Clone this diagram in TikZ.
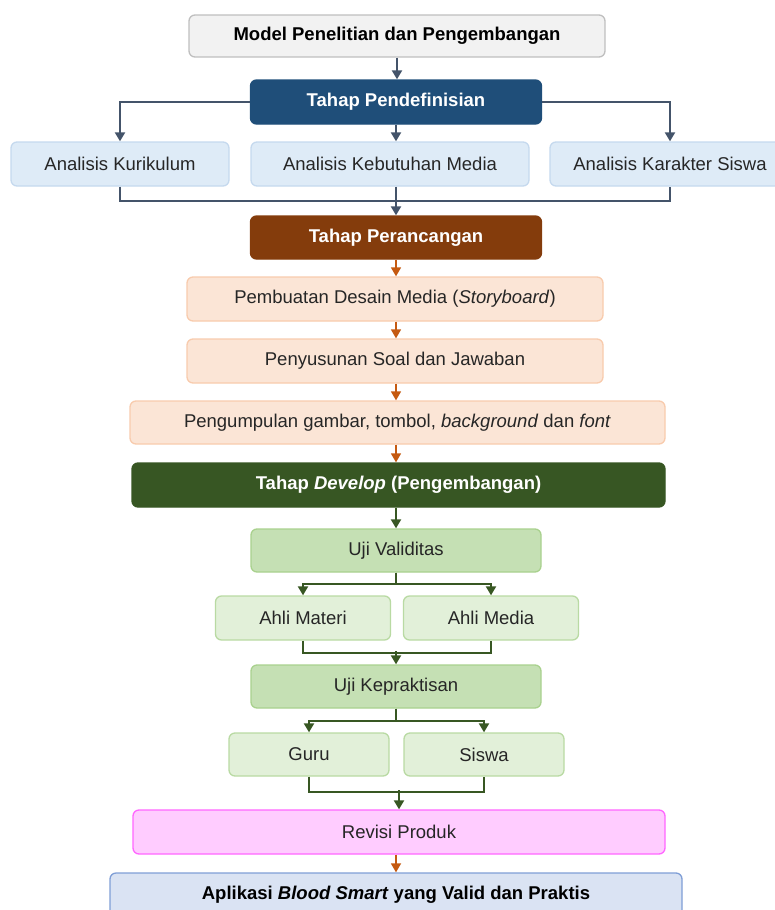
\documentclass[tikz,border=0pt]{standalone}
\usepackage{fontspec}
\setmainfont{Liberation Sans}
\usetikzlibrary{arrows.meta}

\definecolor{slateline}{HTML}{44546A}
\definecolor{rustline}{HTML}{C55A11}
\definecolor{leafline}{HTML}{385723}
\definecolor{inktext}{HTML}{262626}
\definecolor{navyfill}{HTML}{1F4E79}
\definecolor{skyfill}{HTML}{DEEBF7}
\definecolor{skyedge}{HTML}{C5D9EE}
\definecolor{brownfill}{HTML}{843C0C}
\definecolor{peachfill}{HTML}{FBE5D6}
\definecolor{peachedge}{HTML}{F8CBAD}
\definecolor{forestfill}{HTML}{375623}
\definecolor{mintfill}{HTML}{C5E0B4}
\definecolor{mintedge}{HTML}{A9D18E}
\definecolor{palefill}{HTML}{E2F0D9}
\definecolor{paleedge}{HTML}{B9DAA3}
\definecolor{pinkfill}{HTML}{FFCCFF}
\definecolor{pinkedge}{HTML}{FF66FF}
\definecolor{resultfill}{HTML}{DAE3F3}
\definecolor{resultedge}{HTML}{7F9ED6}

\tikzset{
  box/.style={rounded corners=6pt, line width=1.3pt, align=center, minimum height=44pt,
    inner sep=2pt, font=\fontsize{18.5}{22}\selectfont, text=inktext},
  headbox/.style={box, fill=black!5, draw=black!25, font=\fontsize{18.5}{22}\selectfont\bfseries, text=black},
  defphase/.style={box, fill=navyfill, draw=navyfill, text=white, font=\fontsize{18.5}{22}\selectfont\bfseries},
  defbox/.style={box, fill=skyfill, draw=skyedge},
  desphase/.style={box, fill=brownfill, draw=brownfill, text=white, font=\fontsize{18.5}{22}\selectfont\bfseries},
  desbox/.style={box, fill=peachfill, draw=peachedge},
  devphase/.style={box, fill=forestfill, draw=forestfill, text=white, font=\fontsize{18.5}{22}\selectfont\bfseries},
  testbox/.style={box, fill=mintfill, draw=mintedge},
  subbox/.style={box, fill=palefill, draw=paleedge},
  revbox/.style={box, fill=pinkfill, draw=pinkedge},
  endbox/.style={box, fill=resultfill, draw=resultedge, text=black, font=\fontsize{18.5}{22}\selectfont\bfseries},
  tip/.style={-{Triangle[length=9pt,width=10pt]}},
  arrS/.style={tip, draw=slateline, line width=2pt},
  lineS/.style={draw=slateline, line width=2pt},
  arrR/.style={tip, draw=rustline, line width=1.6pt},
  arrL/.style={tip, draw=leafline, line width=2pt},
  lineL/.style={draw=leafline, line width=2pt}
}

\begin{document}
\begin{tikzpicture}[x=1pt,y=-1pt]

\useasboundingbox (0,0) rectangle (775,910);
\clip (0,0) rectangle (775,910);

\node[headbox, minimum width=416pt, minimum height=42pt] (model) at (397,36) {Model Penelitian dan Pengembangan};

\node[defphase, minimum width=291pt] (pend) at (396,102) {Tahap Pendefinisian};
\node[defbox, minimum width=218pt] (kur) at (120,164) {Analisis Kurikulum};
\node[defbox, minimum width=278pt] (keb) at (390,164) {Analisis Kebutuhan Media};
\node[defbox, minimum width=240pt] (kar) at (670,164) {Analisis Karakter Siswa};

\node[desphase, minimum width=291pt, minimum height=43pt] (perc) at (396,237.5) {Tahap Perancangan};
\node[desbox, minimum width=416pt] (desain) at (395,299) {Pembuatan Desain Media (\textit{Storyboard})};
\node[desbox, minimum width=416pt] (soal) at (395,361) {Penyusunan Soal dan Jawaban};
\node[desbox, minimum width=535pt, minimum height=43pt] (kumpul) at (397.5,422.5) {Pengumpulan gambar, tombol, \textit{background} dan \textit{font}};

\node[devphase, minimum width=533pt] (dev) at (398.5,485) {Tahap \textit{Develop} (Pengembangan)};
\node[testbox, minimum width=290pt, minimum height=43pt] (valid) at (396,550.5) {Uji Validitas};
\node[subbox, minimum width=175pt] (materi) at (303,618) {Ahli Materi};
\node[subbox, minimum width=175pt] (media) at (491,618) {Ahli Media};
\node[testbox, minimum width=290pt, minimum height=43pt] (prakt) at (396,686.5) {Uji Kepraktisan};
\node[subbox, minimum width=160pt, minimum height=43pt] (guru) at (309,754.5) {Guru};
\node[subbox, minimum width=160pt, minimum height=43pt] (siswa) at (484,754.5) {Siswa};

\node[revbox, minimum width=532pt] (revisi) at (399,832) {Revisi Produk};
\node[endbox, minimum width=572pt] (hasil) at (396,895) {Aplikasi \textit{Blood Smart} yang Valid dan Praktis};

\draw[arrS] (model.south) -- (model.south |- pend.north);
\draw[arrS] (pend.west) -| (kur.north);
\draw[arrS] (pend.east) -| (kar.north);
\draw[arrS] (pend.south) -- (pend.south |- keb.north);
\draw[lineS] (kur.south) -- ++(0,14) -| (kar.south);
\draw[arrS] (pend.south |- keb.south) -- (perc.north);

\draw[arrR] (perc.south) -- (perc.south |- desain.north);
\draw[arrR] (perc.south |- desain.south) -- (perc.south |- soal.north);
\draw[arrR] (perc.south |- soal.south) -- (perc.south |- kumpul.north);
\draw[arrR] (perc.south |- kumpul.south) -- (perc.south |- dev.north);

\draw[arrL] (valid.north |- dev.south) -- (valid.north);
\draw[arrL] (valid.south) -- ++(0,11) -| (materi.north);
\draw[arrL] (valid.south) -- ++(0,11) -| (media.north);
\draw[lineL] (materi.south) -- ++(0,12) -| (media.south);
\draw[arrL] ([yshift=13pt]prakt.north) -- (prakt.north);
\draw[arrL] (prakt.south) -- ++(0,12) -| (guru.north);
\draw[arrL] (prakt.south) -- ++(0,12) -| (siswa.north);
\draw[lineL] (guru.south) -- ++(0,15) -| (siswa.south);
\draw[arrL] ([yshift=19pt]revisi.north) -- (revisi.north);

\draw[arrR] (revisi.south -| hasil.north) -- (hasil.north);

\end{tikzpicture}
\end{document}
